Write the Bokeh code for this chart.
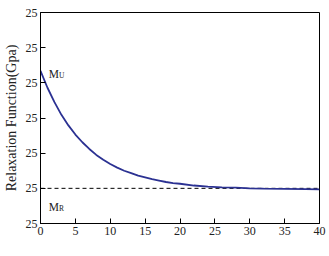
from bokeh.plotting import figure
from bokeh.models import FixedTicker, Label
from bokeh.embed import file_html
from bokeh.resources import INLINE

# data (y in tick units; every tick is labelled "25")
t = [0, 1, 2, 3, 4, 5, 6, 7, 8, 9, 10, 11, 12, 13, 14, 15, 16, 17, 18, 19, 20,
     22, 24, 26, 28, 30, 32, 35, 38, 40]
g = [4.34, 3.86, 3.45, 3.09, 2.79, 2.53, 2.31, 2.12, 1.95, 1.81, 1.69, 1.59, 1.50,
     1.43, 1.36, 1.31, 1.26, 1.22, 1.18, 1.15, 1.13, 1.08, 1.05, 1.03, 1.02, 1.00,
     0.99, 0.985, 0.98, 0.97]
m_r = 1.0
x_ticks = [0, 5, 10, 15, 20, 25, 30, 35, 40]
y_ticks = [0, 1, 2, 3, 4, 5, 6]
y_tick_labels = ["25", "25", "25", "25", "25", "25", "25"]

FONT = "Liberation Serif"
BLUE = "#2B3192"
TXT = "#222222"

p = figure(width=329, height=256, output_backend="svg", toolbar_location=None,
           x_range=(0, 40), y_range=(0, 6),
           min_border_left=39, min_border_right=10, min_border_top=12, min_border_bottom=33)
p.outline_line_color = "black"
p.outline_line_width = 1
p.grid.visible = False
p.background_fill_color = "white"
p.border_fill_color = "white"

p.xaxis.ticker = FixedTicker(ticks=x_ticks)
p.yaxis.ticker = FixedTicker(ticks=y_ticks)
p.yaxis.major_label_overrides = {tk: lb for tk, lb in zip(y_ticks, y_tick_labels)}
for ax in (p.xaxis, p.yaxis):
    ax.major_tick_in = 5
    ax.major_tick_out = 0
    ax.minor_tick_line_color = None
    ax.axis_line_color = "black"
    ax.major_tick_line_color = "black"
    ax.major_label_text_font = FONT
    ax.major_label_text_font_size = "12px"
    ax.major_label_text_color = TXT
p.yaxis.major_label_standoff = 3
p.xaxis.major_label_standoff = 3
p.yaxis.axis_label = "Relaxation Function(Gpa)"
p.yaxis.axis_label_text_font = FONT
p.yaxis.axis_label_text_font_style = "normal"
p.yaxis.axis_label_text_font_size = "14px"
p.yaxis.axis_label_standoff = 4
p.yaxis.axis_label_text_color = TXT

p.line([0, 40], [m_r, m_r], line_color="black", line_dash="4 3", line_width=1)
p.line(t, g, line_color=BLUE, line_width=1.8)

# annotations
def lab(x, y, text, size, style="normal", align="left"):
    p.add_layout(Label(x=x, y=y, text=text, text_font=FONT, text_font_size=size,
                       text_font_style=style, text_align=align, text_baseline="alphabetic",
                       text_color=TXT))

lab(1.19, 4.25, "M", "11.5px")
lab(2.67, 4.22, "U", "7.5px")
lab(1.19, 0.46, "M", "11.5px")
lab(2.67, 0.43, "R", "7.5px")
lab(18.9, -0.74, "t", "11.5px", "italic", "right")
lab(18.9, -0.74, "/ms", "11.5px")

open("out.html", "w").write(file_html(p, INLINE))
